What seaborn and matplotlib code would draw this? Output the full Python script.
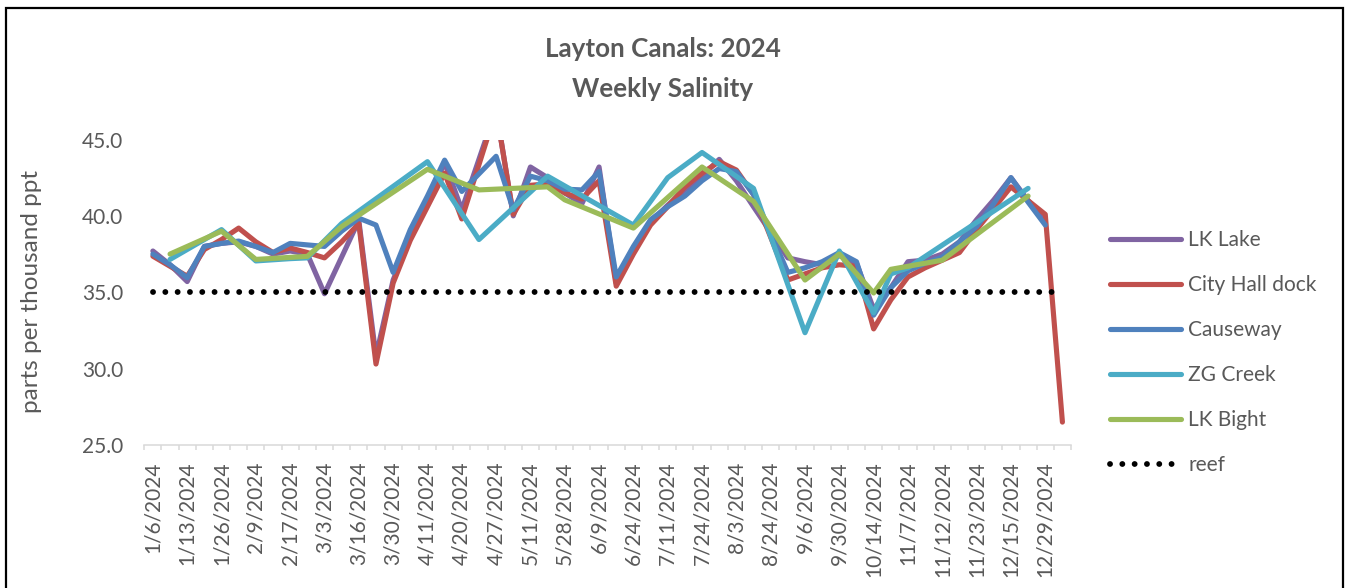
import numpy as np
import pandas as pd
import matplotlib
matplotlib.use("Agg")
import matplotlib.pyplot as plt
import seaborn as sns
from matplotlib.lines import Line2D
from matplotlib.patches import Rectangle

nan = np.nan

# Tick labels shown on every other weekly category (54 categories in total)
tick_labels = ["1/6/2024", "1/13/2024", "1/26/2024", "2/9/2024", "2/17/2024", "3/3/2024",
               "3/16/2024", "3/30/2024", "4/11/2024", "4/20/2024", "4/27/2024", "5/11/2024",
               "5/28/2024", "6/9/2024", "6/24/2024", "7/11/2024", "7/24/2024", "8/3/2024",
               "8/24/2024", "9/6/2024", "9/30/2024", "10/14/2024", "11/7/2024", "11/12/2024",
               "11/23/2024", "12/15/2024", "12/29/2024"]

lk_lake = [37.7, 36.8, 35.7, 38.0, 38.2, 38.3, 38.0, 37.5, 37.7, 37.5,
           34.9, nan, 39.7, 30.8, 35.8, 38.6, 40.9, 43.5, 40.4, nan,
           47.0, 40.0, 43.2, 42.5, 41.5, 40.8, 43.2, 35.6, 37.8, 39.6,
           40.7, 41.7, 42.6, 43.7, 42.3, 40.6, nan, 37.25, 37.0, 36.8,
           37.4, 36.9, 33.9, 35.3, 37.0, 37.1, 37.5, 38.3, 39.75, 41.05,
           42.5, 41.0, 39.6, nan]

city_hall = [37.36, 36.7, 36.05, 37.8, 38.45, 39.2, 38.3, 37.6, 37.9, 37.6,
             37.25, 38.3, 39.5, 30.3, 35.6, 38.4, 40.6, 42.8, 39.8, nan,
             46.9, 40.1, 42.0, 42.1, 41.5, 41.1, 42.3, 35.4, 37.5, 39.4,
             40.6, 41.9, 42.8, 43.55, 43.0, 41.4, nan, 35.8, 36.2, 36.6,
             36.8, 36.7, 32.6, 34.5, 36.0, 36.6, 37.1, 37.6, 39.1, 40.5,
             41.9, 41.0, 40.1, 26.5]

causeway = [37.5, 36.8, 35.95, 38.0, 38.2, 38.35, 38.0, 37.6, 38.2, 38.1,
            38.0, 39.0, 39.85, 39.4, 36.3, 39.1, 41.3, 43.65, 41.6, nan,
            43.9, 40.4, 42.6, 42.3, 41.75, 41.7, 42.9, 36.0, 38.0, 39.75,
            40.6, 41.3, 42.3, 43.1, 42.9, 41.4, nan, 36.3, 36.6, 37.0,
            37.6, 37.0, 33.5, 35.3, 36.4, 36.9, 37.3, 38.3, 39.3, 40.8,
            42.5, 40.9, 39.4, nan]

zg_creek = [nan, 37.15, nan, nan, 39.1, nan, 37.05, nan, 37.2, 37.25,
            nan, 39.5, nan, nan, nan, nan, 43.55, nan, nan, 38.45,
            nan, nan, nan, 42.6, nan, nan, nan, nan, 39.4, nan,
            42.5, nan, 44.15, nan, nan, 41.8, nan, nan, 32.35, nan,
            37.7, nan, 33.65, 36.2, 36.6, nan, nan, nan, nan, nan,
            nan, 41.8, nan, nan]

lk_bight = [nan, 37.5, nan, nan, 39.0, nan, 37.15, nan, nan, 37.35,
            nan, 39.3, nan, nan, nan, nan, 43.05, nan, nan, 41.7,
            nan, nan, nan, 41.9, 41.05, nan, nan, nan, 39.2, nan,
            nan, nan, 43.2, nan, nan, 40.95, nan, nan, 35.8, nan,
            37.5, nan, 34.95, 36.5, 36.7, nan, 37.1, nan, nan, nan,
            nan, 41.3, nan, nan]

reef_value = 35.0

series_names = ["LK Lake", "City Hall dock", "Causeway", "ZG Creek", "LK Bight"]
series_values = [lk_lake, city_hall, causeway, zg_creek, lk_bight]
colors = ["#8064A2", "#C0504D", "#4F81BD", "#4BACC6", "#9BBB59"]

n_weeks = len(lk_lake)
frames = []
for name, vals in zip(series_names, series_values):
    frames.append(pd.DataFrame({"week": np.arange(n_weeks), "salinity": vals, "site": name}))
df = pd.concat(frames, ignore_index=True).dropna()
reef_df = pd.DataFrame({"week": np.arange(n_weeks), "salinity": [reef_value] * n_weeks})

sns.set_theme(style="white")
plt.rcParams["font.family"] = ["Lato", "DejaVu Sans"]
txt = "#595959"

fig = plt.figure(figsize=(13.5, 5.88), dpi=100)
ax = fig.add_axes([144.3 / 1350, 1 - 445 / 588, (1071 - 144.3) / 1350, (445 - 139.5) / 588])

sns.lineplot(data=df, x="week", y="salinity", hue="site", hue_order=series_names,
             palette=colors, estimator=None, sort=True, lw=3.7,
             solid_capstyle="round", solid_joinstyle="round", ax=ax, legend=False)
reef_dots = (0, (0.01, 2.1))
sns.lineplot(data=reef_df, x="week", y="salinity", color="black", lw=4.2,
             linestyle=reef_dots, dash_capstyle="round", ax=ax, legend=False)

ax.set_xlim(-0.5, n_weeks - 0.5)
ax.set_ylim(25, 45)
ax.set_yticks(np.arange(25, 45.1, 5))
ax.set_yticklabels([f"{v:.1f}" for v in np.arange(25, 45.1, 5)])
ax.set_xticks(np.arange(0, n_weeks, 2))
ax.set_xticklabels(tick_labels, rotation=90, va="top", ha="center")
ax.set_xticks(np.arange(-0.5, n_weeks, 1), minor=True)
ax.tick_params(axis="x", which="major", length=0, pad=12, labelsize=15, labelcolor=txt)
ax.tick_params(axis="x", which="minor", length=3.8, width=1.1, color="#d9d9d9", bottom=True)
ax.tick_params(axis="y", length=0, pad=15, labelsize=15, labelcolor=txt)
ax.set_xlabel("")
ax.set_ylabel("")
ax.grid(False)
for s in ["top", "right", "left"]:
    ax.spines[s].set_visible(False)
ax.spines["bottom"].set_color("#d9d9d9")
ax.spines["bottom"].set_linewidth(1.1)

fig.text(32 / 1350, 1 - 291 / 588, "parts per thousand ppt", rotation=90,
         ha="center", va="center", fontsize=17.5, color=txt)
fig.text(663 / 1350, 1 - 49 / 588, "Layton Canals: 2024", ha="center", va="center",
         fontsize=18.7, fontweight="bold", color=txt)
fig.text(663 / 1350, 1 - 89 / 588, "Weekly Salinity", ha="center", va="center",
         fontsize=18.7, fontweight="bold", color=txt)

handles = [Line2D([0], [0], color=c, lw=3.7, solid_capstyle="round") for c in colors]
handles.append(Line2D([0], [0], color="black", lw=4.2, linestyle=reef_dots,
                      dash_capstyle="round"))
labels = series_names + ["reef"]
leg = fig.legend(handles, labels, loc="upper left",
                 bbox_to_anchor=(1110 / 1350, 1 - 230 / 588), frameon=False,
                 fontsize=15, handlelength=3.4, handletextpad=0.35, labelspacing=1.2,
                 borderpad=0, borderaxespad=0)
for t in leg.get_texts():
    t.set_color(txt)

fig.patches.append(Rectangle((6 / 1350, -0.1), (1343 - 6) / 1350, 1.1 - 8 / 588,
                             transform=fig.transFigure, fill=False, ec="black", lw=1.6))

fig.savefig("out.png", dpi=100)
